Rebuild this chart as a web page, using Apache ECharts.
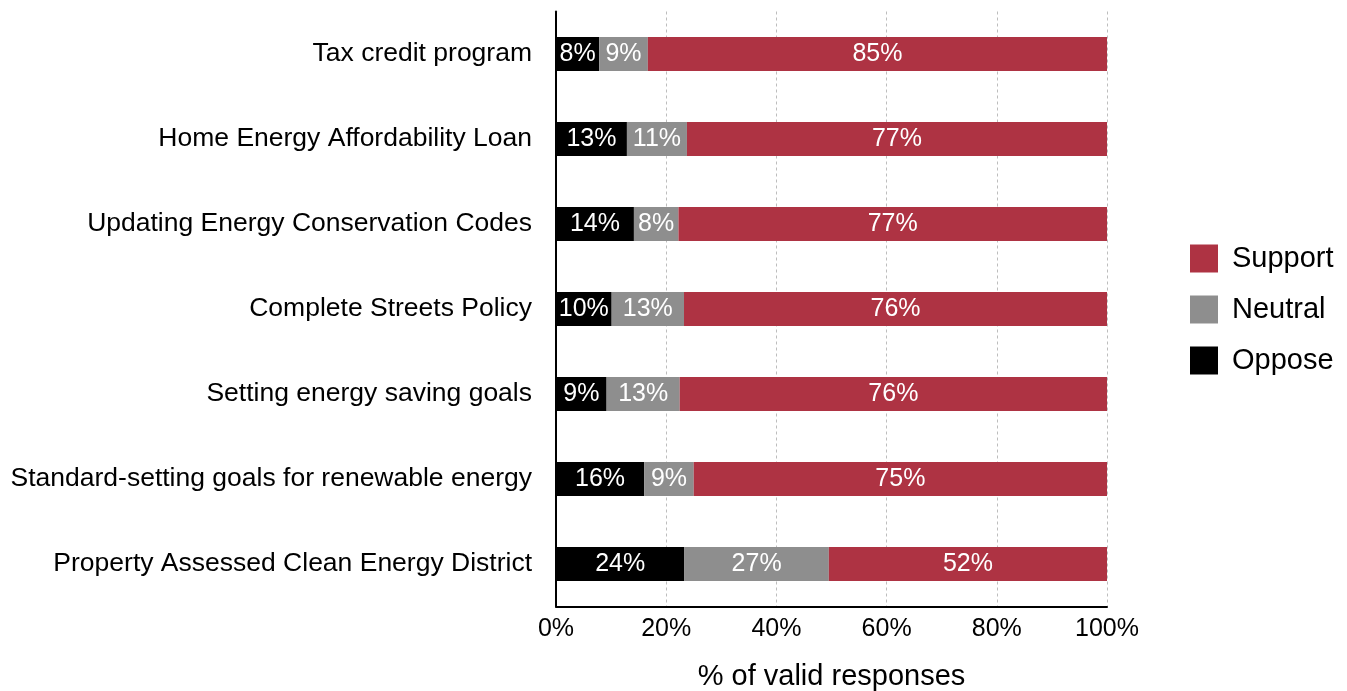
<!DOCTYPE html>
<html>
<head>
<meta charset="utf-8">
<script src="https://cdn.jsdelivr.net/npm/echarts@6/dist/echarts.min.js"></script>
<style>
  html, body { margin: 0; padding: 0; background: #fff; }
  #chart { width: 1347px; height: 691px; }
</style>
</head>
<body>
<div id="chart"></div>
<script>
// Survey items, top to bottom
const categories = [
  'Tax credit program',
  'Home Energy Affordability Loan',
  'Updating Energy Conservation Codes',
  'Complete Streets Policy',
  'Setting energy saving goals',
  'Standard-setting goals for renewable energy',
  'Property Assessed Clean Energy District'
];

// Reported percentages per response (rounded, rows may not total exactly 100)
const opposePct  = [8, 13, 14, 10, 9, 16, 24];
const neutralPct = [9, 11, 8, 13, 13, 9, 27];
const supportPct = [85, 77, 77, 76, 76, 75, 52];

const xTicks = [0, 20, 40, 60, 80, 100];

const FONT = '"Liberation Sans", Arial, sans-serif';

// Each row is scaled so the stacked bar spans the full 0-100% width
const totals = categories.map((_, i) => opposePct[i] + neutralPct[i] + supportPct[i]);
const share = (arr) => arr.map((v, i) => ({ value: v * 100 / totals[i], pct: v }));

const barLabel = {
  show: true,
  position: 'inside',
  color: '#fff',
  fontFamily: FONT,
  fontSize: 25,
  formatter: (p) => p.data.pct + '%'
};

const makeSeries = (name, arr, color) => ({
  name: name,
  type: 'bar',
  stack: 'resp',
  barWidth: 34,
  data: share(arr),
  itemStyle: { color: color },
  label: barLabel,
  emphasis: { disabled: true }
});

const chart = echarts.init(document.getElementById('chart'), null, { renderer: 'canvas' });

chart.setOption({
  animation: false,
  backgroundColor: '#ffffff',
  grid: {
    left: 556, right: 240, top: 11.5, bottom: 84.5,
    containLabel: false,
    outerBoundsMode: 'none'
  },
  legend: {
    data: ['Support', 'Neutral', 'Oppose'],
    orient: 'vertical',
    left: 1185,
    top: 239,
    icon: 'rect',
    itemWidth: 28,
    itemHeight: 28,
    itemGap: 22,
    selectedMode: false,
    textStyle: {
      fontFamily: FONT,
      fontSize: 29,
      color: '#000',
      lineHeight: 28,
      padding: [0, 0, 0, 9]
    }
  },
  xAxis: {
    type: 'value',
    min: 0,
    max: 100,
    interval: 20,
    name: '% of valid responses',
    nameLocation: 'middle',
    nameGap: 56,
    nameTextStyle: { fontFamily: FONT, fontSize: 29, color: '#000' },
    axisLine: { show: true, lineStyle: { color: '#000', width: 2 } },
    axisTick: { show: false },
    axisLabel: {
      fontFamily: FONT,
      fontSize: 25,
      color: '#000',
      margin: 10,
      customValues: xTicks,
      formatter: '{value}%'
    },
    splitLine: {
      show: true,
      lineStyle: { color: '#bdbdbd', type: [3, 3], width: 1 }
    }
  },
  yAxis: {
    type: 'category',
    data: categories,
    inverse: true,
    axisLine: { show: true, lineStyle: { color: '#000', width: 2 } },
    axisTick: { show: false },
    axisLabel: {
      fontFamily: FONT,
      fontSize: 26.5,
      color: '#000',
      margin: 24
    },
    splitLine: { show: false }
  },
  series: [
    makeSeries('Oppose', opposePct, '#000000'),
    makeSeries('Neutral', neutralPct, '#8e8e8e'),
    makeSeries('Support', supportPct, '#ae3343')
  ]
});
</script>
</body>
</html>
